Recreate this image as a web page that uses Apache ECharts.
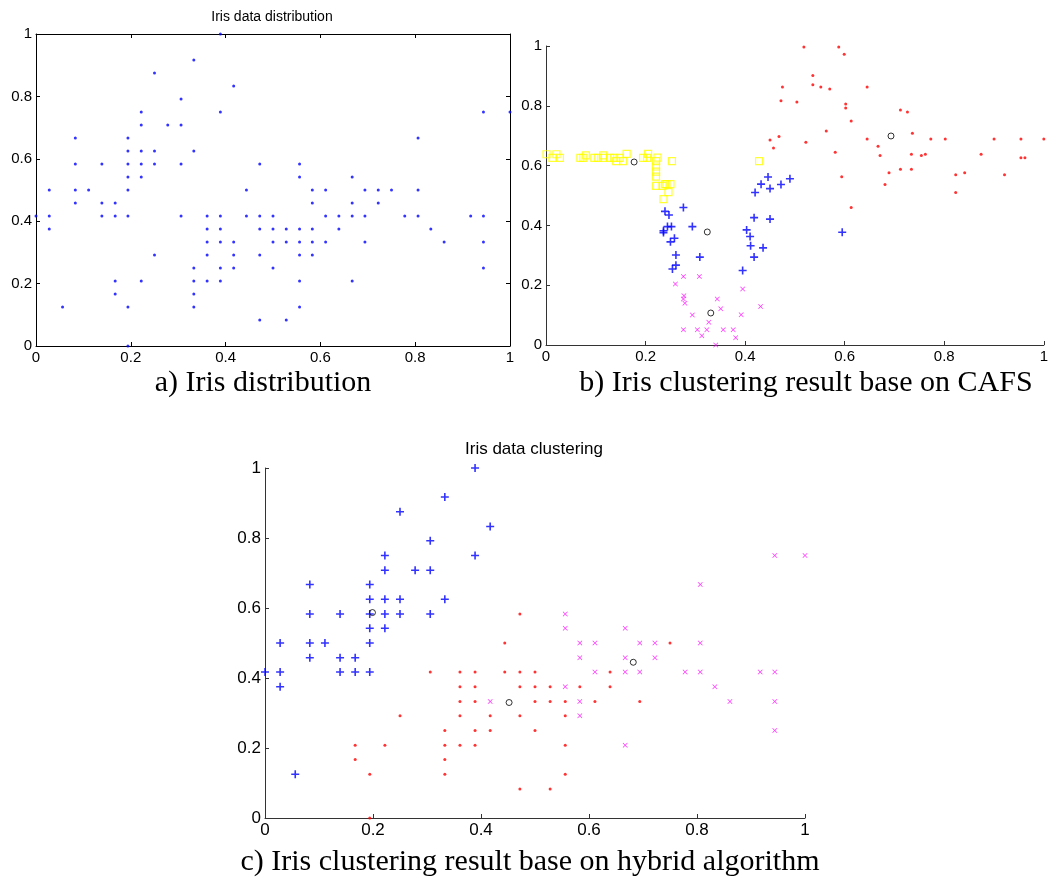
<!DOCTYPE html>
<html>
<head>
<meta charset="utf-8">
<script src="https://cdn.jsdelivr.net/npm/echarts@6/dist/echarts.min.js"></script>
<style>
  html, body { margin: 0; padding: 0; background: #fff; }
  #main { width: 1051px; height: 879px; }
</style>
</head>
<body>
<div id="main"></div>
<script>
// normalized iris points (sepal length, sepal width), grouped as in panel c
const hybBlue = [[0,.417],[.028,.5],[.028,.417],[.028,.375],[.056,.125],[.083,.667],[.083,.583],[.083,.5],[.083,.458],[.111,.5],
  [.139,.583],[.139,.458],[.139,.417],[.167,.458],[.167,.417],[.194,.667],[.194,.625],[.194,.583],[.194,.542],[.194,.5],[.194,.417],
  [.222,.75],[.222,.708],[.222,.625],[.222,.583],[.222,.542],[.25,.875],[.25,.625],[.25,.583],[.278,.708],[.306,.792],[.306,.708],
  [.306,.583],[.333,.917],[.333,.625],[.389,1],[.389,.75],[.417,.833]];
const hybRed = [[.167,.208],[.167,.167],[.194,.125],[.194,0],[.222,.208],[.25,.292],[.306,.417],[.333,.25],[.333,.208],[.333,.167],
  [.333,.125],[.361,.417],[.361,.375],[.361,.333],[.361,.292],[.361,.208],[.389,.417],[.389,.375],[.389,.333],[.389,.25],[.389,.208],
  [.417,.292],[.417,.25],[.444,.5],[.444,.417],[.472,.583],[.472,.417],[.472,.375],[.472,.292],[.472,.083],[.5,.417],[.5,.375],
  [.5,.333],[.5,.25],[.528,.375],[.528,.333],[.528,.083],[.556,.333],[.556,.292],[.556,.208],[.556,.125],[.583,.375],[.611,.333],
  [.639,.417],[.639,.375],[.694,.333],[.75,.5]];
const hybMagenta = [[.417,.333],[.556,.583],[.556,.542],[.556,.375],[.583,.5],[.583,.458],[.583,.333],[.583,.292],[.611,.5],[.611,.417],
  [.667,.542],[.667,.458],[.667,.417],[.667,.208],[.694,.5],[.694,.417],[.722,.5],[.722,.458],[.778,.417],[.806,.667],[.806,.5],
  [.806,.417],[.833,.375],[.861,.333],[.917,.417],[.944,.75],[.944,.417],[.944,.333],[.944,.25],[1,.75]];
const hybCenters = [[.199,.587],[.452,.330],[.682,.445]];

// panel b: CAFS result
const cafsYellow = [[.001,.638],[.013,.626],[.021,.638],[.028,.626],[.069,.626],[.075,.626],[.080,.634],[.097,.626],[.104,.626],
  [.115,.634],[.115,.626],[.129,.626],[.137,.626],[.141,.615],[.148,.626],[.155,.615],[.162,.639],[.195,.626],[.203,.626],[.205,.639],
  [.221,.615],[.224,.627],[.221,.597],[.221,.580],[.221,.563],[.221,.532],[.234,.532],[.239,.538],[.242,.538],[.250,.538],[.246,.511],
  [.236,.488],[.253,.615],[.428,.615]];
const cafsBlue = [[.239,.447],[.247,.435],[.276,.460],[.236,.382],[.236,.376],[.244,.396],[.252,.396],[.250,.345],[.258,.357],
  [.294,.396],[.261,.301],[.261,.267],[.254,.254],[.309,.294],[.395,.249],[.403,.385],[.410,.363],[.411,.332],[.418,.294],[.418,.426],
  [.420,.510],[.432,.538],[.436,.325],[.446,.562],[.450,.523],[.450,.421],[.472,.537],[.490,.556],[.595,.377]];
const cafsMagenta = [[.276,.229],[.308,.229],[.260,.204],[.277,.165],[.276,.154],[.279,.140],[.294,.100],[.276,.051],[.304,.051],
  [.313,.031],[.323,.051],[.327,.076],[.344,.154],[.351,.121],[.356,.051],[.341,0],[.376,.051],[.381,.024],[.392,.101],[.395,.187],
  [.431,.129]];
const cafsRed = [[.450,.686],[.468,.697],[.457,.659],[.518,.997],[.588,.997],[.599,.972],[.536,.901],[.536,.870],[.475,.863],
  [.552,.863],[.570,.856],[.645,.863],[.472,.817],[.504,.813],[.602,.806],[.602,.793],[.712,.786],[.726,.779],[.613,.749],[.563,.716],
  [.736,.708],[.645,.689],[.773,.689],[.802,.689],[.900,.689],[.954,.689],[1,.689],[.522,.678],[.667,.665],[.581,.645],[.671,.634],
  [.734,.638],[.754,.634],[.762,.638],[.874,.638],[.954,.626],[.962,.626],[.689,.576],[.712,.588],[.734,.588],[.823,.569],[.841,.576],
  [.921,.569],[.594,.563],[.681,.537],[.823,.510],[.613,.460]];
const cafsCenters = [[.177,.612],[.324,.378],[.331,.107],[.693,.699]];

const tickVals = [0, 0.2, 0.4, 0.6, 0.8, 1];

const SANS = 'Liberation Sans, Arial, sans-serif';
const SERIF = 'Liberation Serif, Times New Roman, serif';
const PLUS = 'path://M4,0H6V4H10V6H6V10H4V6H0V4H4Z';
const CROSS = 'path://M0,1L1,0L5,4L9,0L10,1L6,5L10,9L9,10L5,6L1,10L0,9L4,5Z';

function axis(gi, pos, fs, showLabel, lineColor) {
  return {
    type: 'value', gridIndex: gi, position: pos,
    min: tickVals[0], max: tickVals[tickVals.length - 1], interval: tickVals[1] - tickVals[0],
    axisLine: { show: true, onZero: false, lineStyle: { color: lineColor, width: 1 } },
    axisTick: { show: true, inside: true, length: 4, lineStyle: { color: lineColor } },
    axisLabel: { show: showLabel, color: '#000', fontSize: fs, fontFamily: SANS, margin: 4 },
    splitLine: { show: false }
  };
}

const myChart = echarts.init(document.getElementById('main'));
myChart.setOption({
  animation: false,
  backgroundColor: '#fff',
  grid: [
    { left: 36, top: 34, width: 474, height: 312 },
    { left: 546, top: 46, width: 499, height: 299 },
    { left: 265, top: 468, width: 540, height: 350 }
  ],
  xAxis: [
    axis(0, 'bottom', 15, true, '#000'),
    axis(0, 'top', 15, false, '#000'),
    axis(1, 'bottom', 15, true, '#333'),
    axis(2, 'bottom', 17, true, '#333')
  ],
  yAxis: [
    axis(0, 'left', 15, true, '#000'),
    axis(0, 'right', 15, false, '#000'),
    axis(1, 'left', 15, true, '#333'),
    axis(2, 'left', 17, true, '#333')
  ],
  graphic: [
    { type: 'text', x: 272, y: 17, style: { text: 'Iris data distribution', font: '14px ' + SANS, fill: '#000', textAlign: 'center', textVerticalAlign: 'middle' } },
    { type: 'text', x: 534, y: 449, style: { text: 'Iris data clustering', font: '17px ' + SANS, fill: '#000', textAlign: 'center', textVerticalAlign: 'middle' } },
    { type: 'text', x: 263, y: 383, style: { text: 'a) Iris distribution', font: '30px ' + SERIF, fill: '#000', textAlign: 'center', textVerticalAlign: 'middle' } },
    { type: 'text', x: 806, y: 383, style: { text: 'b) Iris clustering result base on CAFS', font: '30px ' + SERIF, fill: '#000', textAlign: 'center', textVerticalAlign: 'middle' } },
    { type: 'text', x: 530, y: 862, style: { text: 'c) Iris clustering result base on hybrid algorithm', font: '30px ' + SERIF, fill: '#000', textAlign: 'center', textVerticalAlign: 'middle' } }
  ],
  series: [
    // a) all points
    { type: 'scatter', xAxisIndex: 0, yAxisIndex: 0, data: hybBlue.concat(hybRed, hybMagenta),
      symbol: 'circle', symbolSize: 3, itemStyle: { color: '#0000ff' } },
    // b) CAFS clusters
    { type: 'scatter', xAxisIndex: 2, yAxisIndex: 2, data: cafsYellow, symbol: 'rect', symbolSize: 7,
      itemStyle: { color: 'rgba(0,0,0,0)', borderColor: '#ffff00', borderWidth: 1.2 } },
    { type: 'scatter', xAxisIndex: 2, yAxisIndex: 2, data: cafsBlue, symbol: PLUS, symbolSize: 8, itemStyle: { color: '#0000ff' } },
    { type: 'scatter', xAxisIndex: 2, yAxisIndex: 2, data: cafsMagenta, symbol: CROSS, symbolSize: 5, itemStyle: { color: '#ff00ff' } },
    { type: 'scatter', xAxisIndex: 2, yAxisIndex: 2, data: cafsRed, symbol: 'circle', symbolSize: 3, itemStyle: { color: '#ff0000' } },
    { type: 'scatter', xAxisIndex: 2, yAxisIndex: 2, data: cafsCenters, symbol: 'circle', symbolSize: 6,
      itemStyle: { color: 'rgba(0,0,0,0)', borderColor: '#000', borderWidth: 1 } },
    // c) hybrid clusters
    { type: 'scatter', xAxisIndex: 3, yAxisIndex: 3, data: hybBlue, symbol: PLUS, symbolSize: 8, itemStyle: { color: '#0000ff' } },
    { type: 'scatter', xAxisIndex: 3, yAxisIndex: 3, data: hybRed, symbol: 'circle', symbolSize: 3, itemStyle: { color: '#ff0000' } },
    { type: 'scatter', xAxisIndex: 3, yAxisIndex: 3, data: hybMagenta, symbol: CROSS, symbolSize: 5, itemStyle: { color: '#ff00ff' } },
    { type: 'scatter', xAxisIndex: 3, yAxisIndex: 3, data: hybCenters, symbol: 'circle', symbolSize: 6,
      itemStyle: { color: 'rgba(0,0,0,0)', borderColor: '#000', borderWidth: 1 } }
  ]
});
</script>
</body>
</html>
